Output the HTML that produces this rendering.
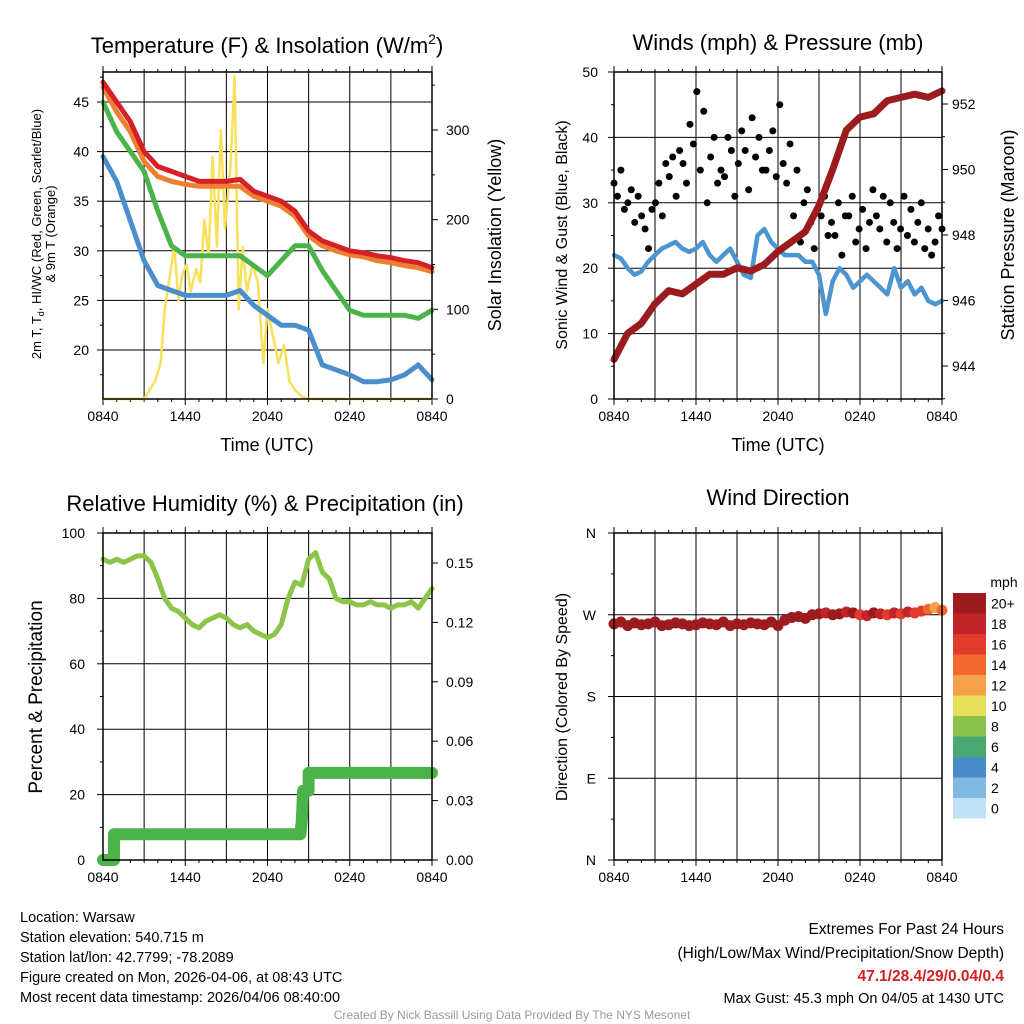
<!DOCTYPE html>
<html><head><meta charset="utf-8"><style>
body{margin:0;background:#fff;}
svg{display:block;font-family:"Liberation Sans",sans-serif;}
</style></head><body>
<svg id="s" width="1024" height="1024" xmlns="http://www.w3.org/2000/svg"></svg>
<script>
// ---------- DATA ----------
const hours = [0,1,2,3,4,5,6,7,8,9,10,11,12,13,14,15,16,17,18,19,20,21,22,23,24];
const tempRed = [47,45,43,40,38.5,38,37.5,37,37,37,37.2,36,35.5,35,34,32,31,30.5,30,29.8,29.5,29.3,29,28.8,28.3];
const tempOrange = [46.5,44,42,39,37.5,37,36.7,36.5,36.5,36.5,36.5,35.5,35,34.5,33.5,31.5,30.5,30,29.6,29.4,29,28.8,28.5,28.3,27.9];
const tempGreen = [45,42,40,38,34,30.5,29.5,29.5,29.5,29.5,29.5,28.5,27.5,29,30.5,30.5,28,26,24,23.5,23.5,23.5,23.5,23.2,24];
const dewBlue = [39.5,37,33,29,26.5,26,25.5,25.5,25.5,25.5,26,24.5,23.5,22.5,22.5,22,18.5,18,17.5,16.8,16.8,17,17.5,18.5,17];
const solarTimes = [0,3.0,3.4,3.8,4.2,4.5,4.8,5.2,5.5,5.8,6.1,6.4,6.8,7.1,7.4,7.7,8.0,8.3,8.6,8.9,9.3,9.6,9.9,10.2,10.5,10.9,11.3,11.7,12.0,12.4,12.8,13.2,13.6,14.0,14.5,15,24];
const solarVals = [0,0,10,20,40,100,130,170,110,140,150,120,145,130,200,160,270,170,300,190,260,360,100,170,120,150,130,40,100,70,40,60,20,10,3,0,0];
const windSonic = [22,21.5,20,19,19.5,21,22,23,23.5,24,23,22.5,23,24,22,21,22,23,21,19,18.5,25,26,24,23,22,22,22,21,21,19,13,18,20,19,17,18,19,18,17,16,20,17,18,16,17,15,14.5,15];
const windGust = [33,31,35,29,30,32,27,31,28,26,23,29,30,33,28,36,34,37,31,38,36,33,42,39,47,35,44,30,37,40,33,35,34,40,38,31,36,41,38,32,43,37,40,35,35,38,41,34,45,36,33,39,28,35,24,30,32,27,23,29,28,31,25,27,25,30,22,28,28,31,24,26,29,23,27,32,28,26,31,24,30,27,23,26,31,25,29,24,27,30,23,26,22,24,28,26];
const pressure = [944.2,945.0,945.3,945.9,946.3,946.2,946.5,946.8,946.8,947.0,946.9,947.1,947.5,947.8,948.1,948.9,950.0,951.2,951.6,951.7,952.1,952.2,952.3,952.2,952.4];
const rh = [92,91,92,91,92,93,93,91,86,80,77,76,74,72,71,73,74,75,74,72,71,72,70,69,68,69,72,80,85,84,92,94,88,86,80,79,79,78,78,79,78,78,77,78,78,79,77,80,83];
const precipTimes = [0,0.8,0.8,14.4,14.5,14.6,15.0,15.0,24];
const precipVals = [0,0,0.013,0.013,0.02,0.035,0.035,0.044,0.044];
const windDir = [260,262,258,261,259,260,262,258,259,261,260,258,259,261,260,259,262,258,260,259,261,260,259,262,258,264,267,268,266,270,271,272,270,271,273,272,270,269,272,271,270,272,271,273,272,274,276,278,275];
const windDirSpeed = [24,24,24,24,24,24,24,24,24,24,24,24,24,24,24,24,24,24,24,24,24,24,24,24,24,24,24,24,24,24,20,18,20,22,18,20,16,18,20,18,17,18,16,18,17,16,14,12,14];
const xTickLabels = ["0840","1440","2040","0240","0840"];
const tempTicks = [20,25,30,35,40,45];
const solarTicks = [0,100,200,300];
const windTicks = [0,10,20,30,40,50];
const presTicks = [944,946,948,950,952];
const rhTicks = [0,20,40,60,80,100];
const prTicks = [0,0.03,0.06,0.09,0.12,0.15];
const dirLabels = ["N","E","S","W","N"];
const cbLabels = ["20+","18","16","14","12","10","8","6","4","2","0"];
const cbColors = ["#9b1b1e","#c1232a","#e23b2e","#f1692f","#f7a24a","#e6df5a","#8cc14b","#48a970","#4a8cc8","#82b9e2","#bfe2f6"];

// ---------- HELPERS ----------
const S=document.getElementById('s');const NS="http://www.w3.org/2000/svg";
function el(tag,attrs,parent){const e=document.createElementNS(NS,tag);for(const k in attrs)e.setAttribute(k,attrs[k]);(parent||S).appendChild(e);return e;}
function txt(x,y,s,size,anchor,extra){const t=el('text',Object.assign({x:x,y:y,'font-size':size,'text-anchor':anchor||'middle',fill:'#000'},extra||{}));t.textContent=s;return t;}
function lin(d0,d1,r0,r1){return v=>r0+(v-d0)*(r1-r0)/(d1-d0);}
function poly(xs,ys,sx,sy,color,w,name){const p=el('polyline',{points:xs.map((x,i)=>sx(x).toFixed(1)+','+sy(ys[i]).toFixed(1)).join(' '),fill:'none',stroke:color,'stroke-width':w,'stroke-linejoin':'round','stroke-linecap':'round'});

return p;}
function frame(L,T,R,B,name){
 const g=el('g',{});
 
 
 for(let h=3;h<24;h+=3){const x=L+(R-L)*h/24;el('line',{x1:x,y1:T,x2:x,y2:B,stroke:'#000','stroke-width':1},g);}
 for(let h=0;h<=24;h+=1){const x=L+(R-L)*h/24;el('line',{x1:x,y1:B,x2:x,y2:B+(h%6==0?6:3),stroke:'#000','stroke-width':1},g);el('line',{x1:x,y1:T,x2:x,y2:T-(h%6==0?6:3),stroke:'#000','stroke-width':1},g);}
 for(let i=0;i<5;i++){const t=txt(L+(R-L)*i/4,B+22,xTickLabels[i],14);
 
 }
 return g;}
function border(L,T,R,B){el('rect',{x:L,y:T,width:R-L,height:B-T,fill:'none',stroke:'#000','stroke-width':1.5});}
function hxs(n){return Array.from({length:n},(_,i)=>i*24/(n-1));}

// ---------- PANEL 1 ----------
{const L=103,T=72,R=432,B=399;const sx=lin(0,24,L,R);const sy=lin(20,45,350,102);const sy2=lin(0,300,399,130);
 frame(L,T,R,B,'temperature-panel');
 tempTicks.forEach(v=>{el('line',{x1:L,x2:R,y1:sy(v),y2:sy(v),stroke:'#000'});el('line',{x1:L-6,x2:L,y1:sy(v),y2:sy(v),stroke:'#000'});const t=txt(L-14,sy(v)+5,String(v),14,'end');});
 for(let v=17.5;v<48;v+=5)el('line',{x1:L-3,x2:L,y1:sy(v),y2:sy(v),stroke:'#000'});
 solarTicks.forEach(v=>{el('line',{x1:R,x2:R+6,y1:sy2(v),y2:sy2(v),stroke:'#000'});const t=txt(R+14,sy2(v)+5,String(v),14,'start');});
 for(let v=50;v<360;v+=100)el('line',{x1:R,x2:R+3,y1:sy2(v),y2:sy2(v),stroke:'#000'});
 poly(solarTimes,solarVals,sx,sy2,'#f8e05a',2.5,'solar-line');
 poly(hours,dewBlue,sx,sy,'#4a8fcc',5,'dewpoint-line');
 poly(hours,tempGreen,sx,sy,'#4cb34a',5,'heat-index-line');
 poly(hours,tempOrange,sx,sy,'#f07e30',5,'temp-9m-line');
 poly(hours,tempRed,sx,sy,'#d42027',5,'temp-2m-line');
 border(L,T,R,B);
 const t1=el('text',{x:267,y:53,'font-size':22,'text-anchor':'middle'});t1.innerHTML='Temperature (F) &amp; Insolation (W/m<tspan font-size="14" dy="-9">2</tspan><tspan dy="9">)</tspan>';
 
 const a=el('text',{transform:'translate(41,234) rotate(-90)','font-size':13,'text-anchor':'middle'});a.innerHTML='2m T, T<tspan font-size="9" dy="3">d</tspan><tspan dy="-3">, HI/WC (Red, Green, Scarlet/Blue)</tspan>';
 
 const a2=txt(0,0,'& 9m T (Orange)',13,'middle',{transform:'translate(55,234) rotate(-90)'});
 const a3=txt(0,0,'Solar Insolation (Yellow)',18,'middle',{transform:'translate(501,235) rotate(-90)'});
 const a4=txt(267,457,'Time (UTC)',18);
 a4.setAttribute('y',451);
}
// ---------- PANEL 2 ----------
{const L=614,T=72,R=942,B=399;const sx=lin(0,24,L,R);const sy=lin(0,50,B,T);const sy2=lin(944,952,366,104);
 frame(L,T,R,B,'wind-panel');
 windTicks.forEach(v=>{el('line',{x1:L,x2:R,y1:sy(v),y2:sy(v),stroke:'#000'});el('line',{x1:L-6,x2:L,y1:sy(v),y2:sy(v),stroke:'#000'});const t=txt(L-16,sy(v)+5,String(v),14,'end');});
 for(let v=5;v<50;v+=10)el('line',{x1:L-3,x2:L,y1:sy(v),y2:sy(v),stroke:'#000'});
 presTicks.forEach(v=>{el('line',{x1:R,x2:R+6,y1:sy2(v),y2:sy2(v),stroke:'#000'});const t=txt(R+10,sy2(v)+5,String(v),14,'start');});
 for(let v=943;v<953;v+=1)if(v%2)el('line',{x1:R,x2:R+3,y1:sy2(v),y2:sy2(v),stroke:'#000'});
 poly(hxs(windSonic.length),windSonic,sx,sy,'#4c95d0',4.5,'sonic-wind-line');
 const gx=hxs(windGust.length);
 windGust.forEach((v,i)=>{const c=el('circle',{cx:sx(gx[i]),cy:sy(v),r:3.5,fill:'#000'});});
 poly(hours,pressure,sx,sy2,'#9b1b1e',7,'pressure-line');
 border(L,T,R,B);
 const t=txt(778,50,'Winds (mph) & Pressure (mb)',22);
 const a=txt(0,0,'Sonic Wind & Gust (Blue, Black)',16,'middle',{transform:'translate(567,235) rotate(-90)'});
 const b=txt(0,0,'Station Pressure (Maroon)',18,'middle',{transform:'translate(1014,235) rotate(-90)'});
 const c=txt(778,451,'Time (UTC)',18);
}
// ---------- PANEL 3 ----------
{const L=103,T=533,R=432,B=860;const sx=lin(0,24,L,R);const sy=lin(0,100,B,T);const sy2=lin(0,0.15,B,563);
 frame(L,T,R,B,'humidity-panel');
 rhTicks.forEach(v=>{el('line',{x1:L,x2:R,y1:sy(v),y2:sy(v),stroke:'#000'});el('line',{x1:L-6,x2:L,y1:sy(v),y2:sy(v),stroke:'#000'});const t=txt(L-18,sy(v)+5,String(v),14,'end');});
 for(let v=10;v<100;v+=20)el('line',{x1:L-3,x2:L,y1:sy(v),y2:sy(v),stroke:'#000'});
 prTicks.forEach(v=>{el('line',{x1:R,x2:R+6,y1:sy2(v),y2:sy2(v),stroke:'#000'});const t=txt(R+14,sy2(v)+5,v.toFixed(2),14,'start');});
 poly(precipTimes,precipVals,sx,sy2,'#4cb34a',12,'precip-line');
 poly(hxs(rh.length),rh,sx,sy,'#8cc44a',5,'rh-line');
 border(L,T,R,B);
 const t=txt(265,511,'Relative Humidity (%) & Precipitation (in)',22);
 const a=txt(0,0,'Percent & Precipitation',19,'middle',{transform:'translate(42,697) rotate(-90)'});
}
// ---------- PANEL 4 ----------
{const L=614,T=533,R=942,B=860;const sx=lin(0,24,L,R);const sy=lin(0,360,B,T);
 frame(L,T,R,B,'wind-direction-panel');
 [0,90,180,270,360].forEach((v,i)=>{if(v>0&&v<360)el('line',{x1:L,x2:R,y1:sy(v),y2:sy(v),stroke:'#000'});el('line',{x1:L-6,x2:L,y1:sy(v),y2:sy(v),stroke:'#000'});const t=txt(L-18,sy(v)+5,dirLabels[i],14,'end');});
 for(let v=45;v<360;v+=90)el('line',{x1:L-3,x2:L,y1:sy(v),y2:sy(v),stroke:'#000'});
 const dx=hxs(windDir.length);
 function spColor(s){const k=Math.min(10,Math.floor(s/2));return cbColors[10-k];}
 windDir.forEach((v,i)=>{const c=el('circle',{cx:sx(dx[i]),cy:sy(v),r:5.5,fill:spColor(windDirSpeed[i])});});
 border(L,T,R,B);
 const t=txt(778,505,'Wind Direction',22);
 const a=txt(0,0,'Direction (Colored By Speed)',16,'middle',{transform:'translate(567,697) rotate(-90)'});
 const h=20.5;
 cbColors.forEach((c,i)=>{const r=el('rect',{x:953,y:593+i*h,width:33,height:h,fill:c});const l=txt(991,593+i*h+h/2+5,cbLabels[i],14,'start');});
 const m=txt(1004,587,'mph',14);
}
// ---------- FOOTER TEXT ----------
{const lines=["Location: Warsaw","Station elevation: 540.715 m","Station lat/lon: 42.7799; -78.2089","Figure created on Mon, 2026-04-06, at 08:43 UTC","Most recent data timestamp: 2026/04/06 08:40:00"];
 lines.forEach((s,i)=>{const t=txt(20,922+i*20,s,14.5,'start');});
 const r1=txt(1004,934,'Extremes For Past 24 Hours',15.5,'end');
 const r2=txt(1004,958,'(High/Low/Max Wind/Precipitation/Snow Depth)',15.5,'end');
 const r3=txt(1004,981,'47.1/28.4/29/0.04/0.4',15.5,'end',{fill:'#d42027','font-weight':'bold'});
 const r4=txt(1004,1003,'Max Gust: 45.3 mph On 04/05 at 1430 UTC',14.5,'end');
 const f=txt(512,1019,'Created By Nick Bassill Using Data Provided By The NYS Mesonet',12,'middle',{fill:'#999'});
}
</script>
</body></html>
